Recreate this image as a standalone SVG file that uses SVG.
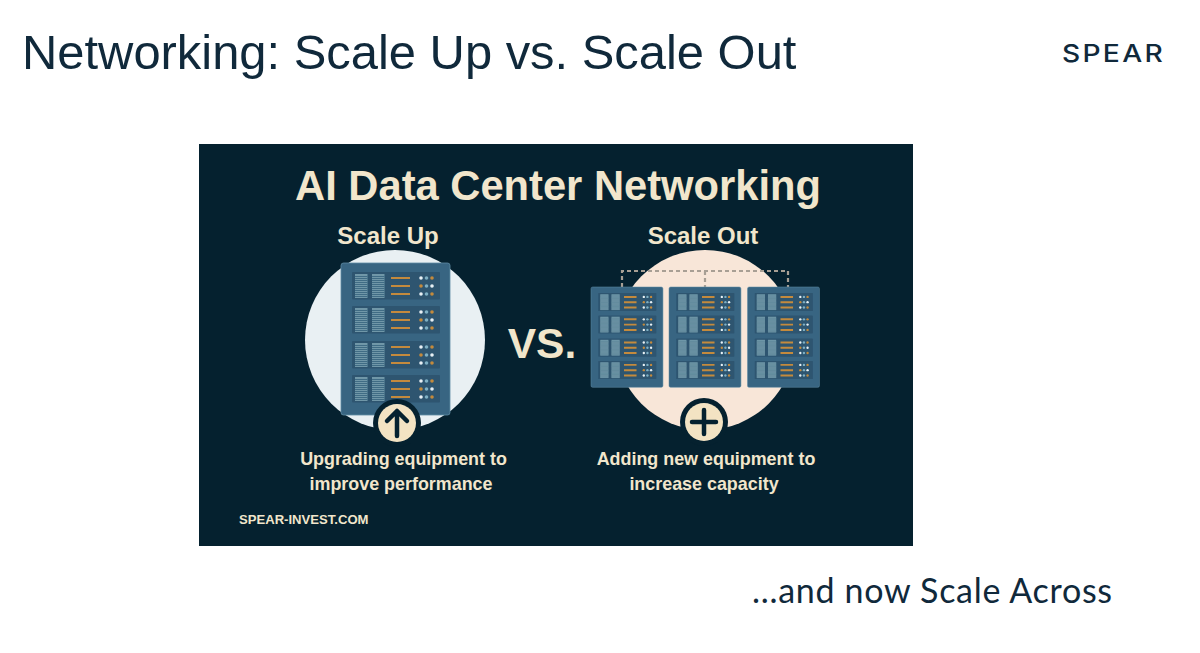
<svg xmlns="http://www.w3.org/2000/svg" width="1200" height="653" viewBox="0 0 1200 653">
<style>
.sans{font-family:"Liberation Sans",Arial,sans-serif}
.cream{fill:#f1e6cc;font-weight:700}
.mid{text-anchor:middle}
.lin{stroke:#c48a3c;stroke-width:var(--lw,2.1)}
.vent{fill:#6f97a8}
.vl{stroke:var(--vl,#3f6c85);stroke-width:1}
.unit{fill:#2d5570}
.dw{fill:#e8f0f4}.db{fill:#7fb0c4}.do{fill:#c48a3c}
.small{--lw:3;--vl:#5f8799}
</style>
<defs>
<filter id="soft" x="-5%" y="-5%" width="110%" height="110%"><feGaussianBlur stdDeviation="0.6"/></filter>
<g id="stripes">
<rect class="vent" width="12.5" height="24"/>
<path class="vl" d="M0 2.500H12.5M0 4.500H12.5M0 6.500H12.5M0 8.500H12.5M0 10.500H12.5M0 12.500H12.5M0 14.500H12.5M0 16.500H12.5M0 18.500H12.5M0 20.500H12.5M0 22.500H12.5"/>
</g>
<g id="unit">
<rect class="unit" width="88" height="27.5" rx="1"/>
<use href="#stripes" x="3" y="2"/>
<use href="#stripes" x="20" y="2"/>
<path class="lin" d="M39 6H58M39 14H58M39 22H58"/>
<circle class="dw" cx="69" cy="6" r="1.8"/><circle class="db" cx="74.5" cy="6" r="1.8"/><circle class="do" cx="80" cy="6" r="1.8"/>
<circle class="do" cx="69" cy="14" r="1.8"/><circle class="db" cx="74.5" cy="14" r="1.8"/><circle class="dw" cx="80" cy="14" r="1.8"/>
<circle class="dw" cx="69" cy="22" r="1.8"/><circle class="db" cx="74.5" cy="22" r="1.8"/><circle class="do" cx="80" cy="22" r="1.8"/>
</g>
<g id="server">
<rect width="109" height="152" rx="2.5" fill="#386582" stroke="#5e8ba3" stroke-width=".8"/>
<use href="#unit" x="11" y="9"/>
<use href="#unit" x="11" y="43"/>
<use href="#unit" x="11" y="78"/>
<use href="#unit" x="11" y="112"/>
</g>
</defs>

<rect width="1200" height="653" fill="#fff"/>
<text id="title" class="sans" x="22" y="69" font-size="48.9" fill="#10293b">Networking: Scale Up vs. Scale Out</text>
<g id="logo"><text transform="translate(1062 62) scale(1.15 1)" font-family="Inter,'Liberation Sans',sans-serif" font-size="24.500" font-weight="500" letter-spacing="2" fill="#10293b">SPEAR</text></g>

<g id="panel">
<rect x="199" y="144" width="714" height="402" fill="#05212f"/>
<text class="sans cream mid" x="558" y="200" font-size="41.7">AI Data Center Networking</text>
</g>

<g id="scale-up">
<text class="sans cream mid" x="388" y="244" font-size="24">Scale Up</text>
<circle cx="395" cy="340" r="90" fill="#e9f0f3"/>
<use href="#server" x="341" y="263" filter="url(#soft)"/>
<circle cx="397" cy="423" r="24" fill="#05212f"/>
<circle cx="397" cy="423" r="19" fill="#f3e3c3"/>
<path d="M397 436V411M387 421L397 411L407 421" fill="none" stroke="#05212f" stroke-width="4.5" stroke-linecap="round" stroke-linejoin="round"/>
<text class="sans cream mid" x="403.500" y="465" font-size="17.9">Upgrading equipment to</text>
<text class="sans cream mid" x="401" y="490" font-size="17.9">improve performance</text>
</g>

<g id="vs"><text class="sans cream mid" x="542" y="358" font-size="42.5">VS.</text></g>

<g id="scale-out">
<text class="sans cream mid" x="703" y="244" font-size="24">Scale Out</text>
<circle cx="705" cy="340" r="90" fill="#f8e6d8"/>
<g id="connectors" fill="none" stroke="#a89f94" stroke-width="2.2" stroke-dasharray="4 3">
<path d="M622 287V271H788V287"/>
<path d="M705 271V287"/>
</g>
<use class="small" href="#server" transform="translate(591 287) scale(.66)" filter="url(#soft)"/>
<use class="small" href="#server" transform="translate(669 287) scale(.66)" filter="url(#soft)"/>
<use class="small" href="#server" transform="translate(747.500 287) scale(.66)" filter="url(#soft)"/>
<circle cx="704" cy="422" r="24" fill="#05212f"/>
<circle cx="704" cy="422" r="19" fill="#f3e3c3"/>
<path d="M704 410V434M692 422H716" fill="none" stroke="#05212f" stroke-width="4.5" stroke-linecap="round"/>
<text class="sans cream mid" x="706" y="465" font-size="17.9">Adding new equipment to</text>
<text class="sans cream mid" x="704" y="490" font-size="17.9">increase capacity</text>
</g>

<g id="footer-mark"><text class="sans cream" x="239" y="524" font-size="13.1">SPEAR-INVEST.COM</text></g>
<g id="caption"><text x="752" y="603" font-family="Lato,'Noto Sans',sans-serif" font-size="34" letter-spacing=".7" fill="#10293b">…and now Scale Across</text></g>
</svg>
